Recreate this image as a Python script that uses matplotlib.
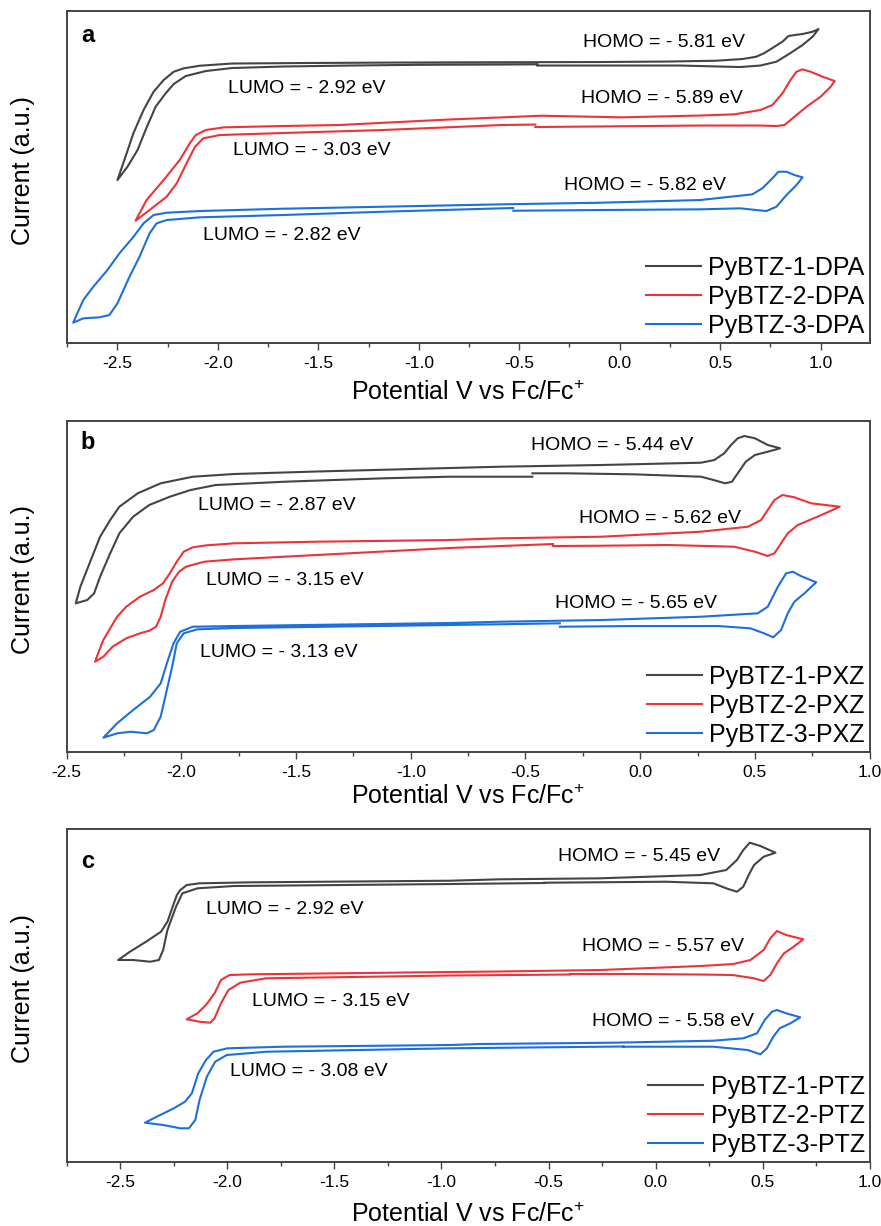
import matplotlib
matplotlib.use('Agg')
import matplotlib.pyplot as plt
from matplotlib.ticker import MultipleLocator

plt.rcParams['font.family'] = ['Liberation Sans', 'DejaVu Sans']
plt.rcParams['mathtext.fontset'] = 'custom'
plt.rcParams['mathtext.rm'] = 'Liberation Sans'
plt.rcParams['axes.unicode_minus'] = False

# ---- panel a : DPA ----
a1_v = [-0.41, -0.10, 0.30, 0.50, 0.60, 0.70, 0.78, 0.85, 0.91, 0.96, 0.99,
        0.96, 0.91, 0.87, 0.84, 0.81, 0.76, 0.72, 0.68, 0.61, 0.48, 0.24, -0.10, -0.59, -1.09,
        -1.59, -1.93, -2.09, -2.17, -2.22, -2.27, -2.32, -2.37, -2.42, -2.46, -2.50,
        -2.45, -2.40, -2.36, -2.31, -2.26, -2.22, -2.16, -2.06, -1.93, -1.68, -1.34, -1.01, -0.59, -0.41]
a1_i = [277.5, 277.5, 277.5, 276.5, 276, 277.5, 281.3, 290, 298, 306.3, 314,
        311.3, 309, 308, 307, 301.3, 295, 290, 286.3, 284, 282.3, 281.5, 281, 280.8, 280.5,
        280, 279.5, 277.3, 274.7, 271.3, 263, 251.3, 233, 210, 186.3, 163,
        176.3, 193, 213, 236.3, 249.7, 259, 267, 272, 275, 276.5, 277.5, 278.2, 278.5, 278.7]

a2_v = [-0.42, 0.40, 0.70, 0.78, 0.82, 0.86, 0.93, 1.00, 1.05, 1.07,
        1.01, 0.95, 0.91, 0.88, 0.85, 0.81, 0.76, 0.70, 0.57, 0.40, 0.01, -0.39, -0.85, -1.40,
        -1.68, -1.97, -2.06, -2.11, -2.14, -2.19, -2.27, -2.355, -2.41,
        -2.34, -2.255, -2.205, -2.156, -2.114, -2.073, -1.99, -1.68, -1.18, -0.59, -0.42]
a2_i = [216, 217.5, 217.5, 217, 218, 224.7, 236.3, 246.3, 256.3, 262,
        266.3, 271.3, 273.7, 271.3, 263, 249.7, 238, 233, 228.7, 227.5, 225.7, 227.3, 223.5, 218,
        217, 215.7, 213, 208, 199.7, 183, 163, 143, 122.3,
        133, 146.3, 159.7, 179.7, 196.3, 204.7, 208, 210, 213, 218, 218.5]

a3_v = [-0.53, -0.10, 0.40, 0.60, 0.68, 0.73, 0.78, 0.83, 0.88, 0.91,
        0.87, 0.83, 0.79, 0.76, 0.71, 0.66, 0.40, -0.10, -0.59, -1.18, -1.68, -2.09, -2.255,
        -2.32, -2.37, -2.42, -2.49, -2.55, -2.62, -2.67, -2.70, -2.72,
        -2.67, -2.59, -2.54, -2.50, -2.44, -2.39, -2.34, -2.305, -2.255, -2.09, -1.68, -1.18, -0.59, -0.53]
a3_i = [132.3, 133, 133.7, 134.7, 133, 132, 136.3, 148, 158, 165.7,
        168, 171.3, 171.3, 164.7, 154.7, 148.7, 143, 140.3, 138.7, 136.3, 134.3, 132, 130.3,
        128, 119.7, 106.3, 89.7, 73, 56.3, 43, 29.7, 20.3,
        24.7, 25.7, 28, 39.7, 66.3, 86.3, 109.7, 119.7, 123, 125.7, 128, 131.3, 134.7, 135]

# ---- panel b : PXZ ----
b1_v = [-0.47, -0.32, -0.03, 0.265, 0.32, 0.37, 0.40, 0.43, 0.46, 0.50, 0.556, 0.61,
        0.556, 0.50, 0.454, 0.425, 0.396, 0.366, 0.323, 0.265, -0.17, -0.61, -0.83, -1.41,
        -1.77, -1.95, -2.09, -2.19, -2.27, -2.31, -2.354, -2.40, -2.44, -2.46,
        -2.41, -2.38, -2.354, -2.31, -2.27, -2.21, -2.14, -2.05, -1.96, -1.85, -1.55, -1.12, -0.83, -0.47]
b1_i = [278.7, 278.7, 277.7, 275.3, 272, 268.7, 270.3, 280.3, 290.3, 297, 300.3, 303.7,
        307, 313.7, 316, 313.7, 307, 298.7, 292, 289.3, 287, 285.3, 284, 280.5,
        278, 275.3, 268.7, 258.7, 245.3, 232, 215.3, 188.7, 165.3, 148.7,
        152, 158.7, 175.3, 198.7, 218.7, 235.3, 247, 255.3, 262, 267, 270.3, 273.7, 275.3, 275.3]

b2_v = [-0.38, -0.17, 0.12, 0.41, 0.50, 0.556, 0.585, 0.614, 0.643, 0.687, 0.79, 0.87,
        0.745, 0.672, 0.62, 0.585, 0.556, 0.527, 0.47, 0.265, -0.17, -0.61, -0.83, -1.41,
        -1.77, -1.89, -1.95, -1.99, -2.02, -2.05, -2.08, -2.12, -2.18, -2.24, -2.28, -2.31,
        -2.34, -2.36, -2.376,
        -2.34, -2.30, -2.24, -2.18, -2.14, -2.11, -2.09, -2.07, -2.04, -2.01, -1.98, -1.90,
        -1.77, -1.41, -0.83, -0.38]
b2_i = [206, 206.3, 207, 205.3, 200.3, 196, 198.7, 208.7, 218.7, 227, 237, 245.3,
        248.7, 254.7, 257, 252, 242, 232, 225.3, 220.3, 215.3, 213.7, 212, 210.3,
        208.7, 206.7, 204.7, 200.3, 190.3, 178.7, 168.7, 162, 155.3, 145.3, 135.3, 123.7,
        112, 100.3, 90.3,
        95.3, 105.3, 113.7, 118.7, 121.3, 125.3, 135.3, 152, 170.3, 180.3, 185.3, 190.3,
        192.7, 197, 204, 208]

b3_v = [-0.35, -0.03, 0.34, 0.48, 0.54, 0.58, 0.614, 0.643, 0.672, 0.716, 0.767,
        0.70, 0.665, 0.636, 0.60, 0.556, 0.512, 0.265, -0.17, -0.61, -0.83, -1.77, -1.95,
        -2.005, -2.034, -2.063, -2.09, -2.136, -2.21, -2.28, -2.34,
        -2.28, -2.22, -2.15, -2.12, -2.09, -2.07, -2.04, -2.02, -1.99, -1.93, -1.77, -0.83, -0.35]
b3_i = [125.3, 126, 126, 123.7, 118.7, 114.7, 122, 138.7, 150.3, 158.7, 169.7,
        176, 180.3, 178.7, 165.3, 145.3, 138.7, 135.3, 132, 130.3, 129, 126, 125.3,
        120.3, 108.7, 88.7, 68.7, 55.3, 42, 28.7, 14.3,
        18.7, 20.3, 18.7, 22, 35.3, 55.3, 85.3, 108.7, 118.7, 122.7, 124, 127, 128.7]

# ---- panel c : PTZ ----
c1_v = [-0.52, 0.05, 0.27, 0.33, 0.38, 0.41, 0.435, 0.46, 0.505, 0.56,
        0.49, 0.44, 0.41, 0.38, 0.33, 0.21, -0.26, -0.73, -0.96, -1.89, -2.13, -2.19, -2.22,
        -2.236, -2.25, -2.28, -2.31, -2.38, -2.455, -2.51,
        -2.44, -2.36, -2.32, -2.30, -2.28, -2.24, -2.21, -2.14, -1.97, -0.96, -0.52]
c1_i = [279.3, 280.3, 278.7, 273.7, 270.3, 275.3, 287, 297, 305.3, 309.3,
        316, 319.3, 312, 302, 292, 287, 283.7, 282.7, 281.3, 279.7, 278.7, 277, 272,
        267, 258.7, 240.3, 230.3, 220.3, 210.3, 202,
        202, 200.3, 202, 212, 232, 255.3, 268.7, 273.7, 276, 278, 279]

c2_v = [-0.40, -0.10, 0.21, 0.36, 0.46, 0.505, 0.536, 0.567, 0.60, 0.645, 0.69,
        0.61, 0.567, 0.536, 0.505, 0.443, 0.364, 0.21, -0.26, -0.73, -0.96, -1.89, -1.99,
        -2.03, -2.06, -2.10, -2.14, -2.19,
        -2.13, -2.08, -2.06, -2.03, -1.995, -1.94, -1.82, -0.96, -0.40]
c2_i = [188, 188, 187.5, 187, 183.7, 181, 187, 198.7, 208.7, 215.3, 222.7,
        227, 231, 223.7, 212, 202, 198, 196, 192, 190.5, 190, 187.7, 187,
        182, 168.7, 157, 148.7, 142.7,
        140.3, 139.3, 143.7, 158.7, 172, 179.3, 183.7, 186.5, 187.5]

c3_v = [-0.15, 0.27, 0.43, 0.49, 0.52, 0.55, 0.58, 0.63, 0.676,
        0.61, 0.567, 0.544, 0.51, 0.474, 0.41, 0.27, -0.20, -0.82, -0.96, -1.74, -2.00,
        -2.065, -2.10, -2.136, -2.166, -2.198, -2.25, -2.33, -2.385,
        -2.30, -2.22, -2.18, -2.15, -2.13, -2.096, -2.057, -2.003, -1.816, -0.96, -0.15]
c3_i = [115.3, 115.3, 112, 107.7, 113.7, 125.3, 133.7, 138.7, 144.7,
        148.7, 152, 150.3, 142, 128.7, 123.7, 121.3, 119.3, 118, 117, 115.3, 113.7,
        110.3, 102, 88.7, 68.7, 60.3, 53.7, 45.3, 39.3,
        37, 33.7, 33.7, 42, 62, 85.3, 100.3, 107, 110.3, 113.7, 115.5]

labels_a = ['PyBTZ-1-DPA', 'PyBTZ-2-DPA', 'PyBTZ-3-DPA']
labels_b = ['PyBTZ-1-PXZ', 'PyBTZ-2-PXZ', 'PyBTZ-3-PXZ']
labels_c = ['PyBTZ-1-PTZ', 'PyBTZ-2-PTZ', 'PyBTZ-3-PTZ']

notes_a = ['HOMO = - 5.81 eV', 'LUMO = - 2.92 eV', 'HOMO = - 5.89 eV',
           'LUMO = - 3.03 eV', 'HOMO = - 5.82 eV', 'LUMO = - 2.82 eV']
notes_b = ['HOMO = - 5.44 eV', 'LUMO = - 2.87 eV', 'HOMO = - 5.62 eV',
           'LUMO = - 3.15 eV', 'HOMO = - 5.65 eV', 'LUMO = - 3.13 eV']
notes_c = ['HOMO = - 5.45 eV', 'LUMO = - 2.92 eV', 'HOMO = - 5.57 eV',
           'LUMO = - 3.15 eV', 'HOMO = - 5.58 eV', 'LUMO = - 3.08 eV']

# where the notes sit (axes fraction, left edge / centre)
pos_a = [(0.643, 0.904), (0.2016, 0.768), (0.641, 0.738), (0.207, 0.581), (0.620, 0.476), (0.170, 0.325)]
pos_b = [(0.578, 0.927), (0.164, 0.745), (0.6375, 0.704), (0.1736, 0.518), (0.608, 0.450), (0.1655, 0.302)]
pos_c = [(0.612, 0.917), (0.174, 0.758), (0.642, 0.646), (0.231, 0.481), (0.654, 0.4225), (0.204, 0.272)]

colors = ['#444444', '#ee3338', '#1c6fdc']

panels = [
    dict(box=[0.0756, 0.7202, 0.9115, 0.2708], xlim=(-2.753, 1.244), ylim=(0, 332),
         curves=[(a1_v, a1_i), (a2_v, a2_i), (a3_v, a3_i)], labels=labels_a,
         notes=notes_a, pos=pos_a, tag='a', tag_y=0.925, xlab_y=-0.151),
    dict(box=[0.0756, 0.3866, 0.9115, 0.2700], xlim=(-2.5, 1.0), ylim=(0, 331),
         curves=[(b1_v, b1_i), (b2_v, b2_i), (b3_v, b3_i)], labels=labels_b,
         notes=notes_b, pos=pos_b, tag='b', tag_y=0.934, xlab_y=-0.136),
    dict(box=[0.0756, 0.0522, 0.9115, 0.2716], xlim=(-2.751, 1.0), ylim=(0, 333),
         curves=[(c1_v, c1_i), (c2_v, c2_i), (c3_v, c3_i)], labels=labels_c,
         notes=notes_c, pos=pos_c, tag='c', tag_y=0.902, xlab_y=-0.159),
]

fig = plt.figure(figsize=(8.81, 12.26), dpi=100)

for p in panels:
    ax = fig.add_axes(p['box'])
    for (v, i), lab, col in zip(p['curves'], p['labels'], colors):
        ax.plot(v, i, color=col, lw=1.5, label=lab, solid_joinstyle='round')
    ax.set_xlim(*p['xlim'])
    ax.set_ylim(*p['ylim'])
    ax.set_yticks([])
    ax.xaxis.set_major_locator(MultipleLocator(0.5))
    ax.xaxis.set_minor_locator(MultipleLocator(0.25))
    ax.xaxis.set_major_formatter(plt.FormatStrFormatter('%.1f'))
    ax.tick_params(axis='x', which='major', direction='out', length=5, width=1,
                   labelsize=12.5, pad=4, color='#444444')
    ax.tick_params(axis='x', which='minor', direction='out', length=3, width=1, color='#444444')
    for s in ax.spines.values():
        s.set_color('#444444')
        s.set_linewidth(1.4)

    for txt, (x, y) in zip(p['notes'], p['pos']):
        ax.text(x, y, txt, transform=ax.transAxes, fontsize=14, ha='left', va='center')
    ax.text(0.026, p['tag_y'], p['tag'], transform=ax.transAxes, fontsize=17,
            fontweight='bold', ha='center', va='center')

    ax.set_ylabel('Current (a.u.)', fontsize=18)
    ax.yaxis.set_label_coords(-0.0548, 0.52)
    ax.yaxis.label.set_va('center')
    ax.set_xlabel('Potential V vs Fc/Fc$^{+}$', fontsize=18)
    ax.xaxis.set_label_coords(0.5, p['xlab_y'])
    ax.xaxis.label.set_va('center')

    ax.legend(loc='lower right', frameon=False, fontsize=18, handlelength=2.2,
              handletextpad=0.3, labelspacing=0.2, borderaxespad=0.1, borderpad=0.1)

fig.savefig('out.png', dpi=100)
